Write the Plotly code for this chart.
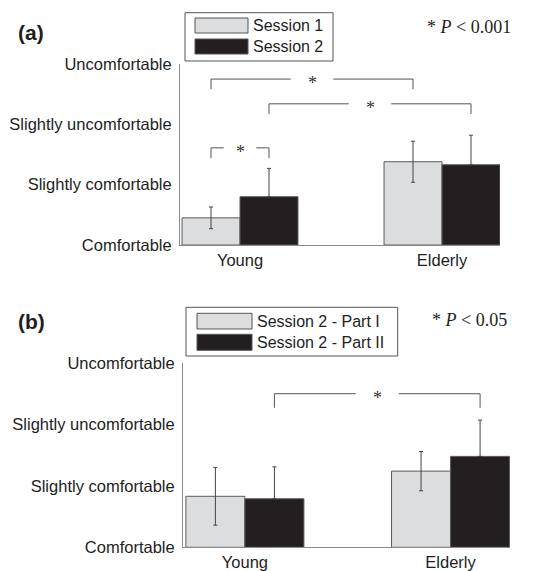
import plotly.graph_objects as go

# ---------------- data ----------------
groups = ["Young", "Elderly"]
levels = ["Comfortable", "Slightly comfortable", "Slightly uncomfortable", "Uncomfortable"]
level_vals = [0, 1, 2, 3]

a_names = ["Session 1", "Session 2"]
a_s1 = [0.45, 1.38]
a_s1_err = [0.18, 0.34]
a_s2 = [0.80, 1.33]
a_s2_err = [0.47, 0.49]
a_ptext = "* <i>P</i> &lt; 0.001"

b_names = ["Session 2 - Part I", "Session 2 - Part II"]
b_p1 = [0.83, 1.24]
b_p1_err = [0.47, 0.32]
b_p2 = [0.79, 1.48]
b_p2_err = [0.52, 0.59]
b_ptext = "* <i>P</i> &lt; 0.05"

# significance brackets: (group_i, series_i, group_j, series_j, level)
a_brackets = [(0, 0, 1, 0, 2.75), (0, 1, 1, 1, 2.34), (0, 0, 0, 1, 1.61)]
b_brackets = [(0, 1, 1, 1, 2.50)]

# ---------------- style ----------------
LIGHT = "#dcdddf"
DARK = "#231f20"
EDGE = "#5a5a5a"
AXC = "#8a8a8a"
TXT = "#1e1e1e"
SANS = "Liberation Sans, Arial, sans-serif"
SERIF = "Liberation Serif, Times New Roman, serif"
BARGAP = 0.426
OFF = (1 - BARGAP) / 4

fig = go.Figure()


def add_panel(xa, ya, vals1, err1, vals2, err2, names):
    fig.add_trace(go.Bar(
        x=groups, y=vals1, name=names[0], xaxis=xa, yaxis=ya,
        marker=dict(color=LIGHT, line=dict(color=EDGE, width=1)),
        error_y=dict(type="data", array=err1, color="#444", thickness=1, width=2),
        showlegend=False, hoverinfo="skip"))
    fig.add_trace(go.Bar(
        x=groups, y=vals2, name=names[1], xaxis=xa, yaxis=ya,
        marker=dict(color=DARK, line=dict(color=EDGE, width=1)),
        error_y=dict(type="data", symmetric=False, array=err2,
                     arrayminus=[0] * len(err2), color="#444", thickness=1, width=2),
        showlegend=False, hoverinfo="skip"))


add_panel("x", "y", a_s1, a_s1_err, a_s2, a_s2_err, a_names)
add_panel("x2", "y2", b_p1, b_p1_err, b_p2, b_p2_err, b_names)

shapes = []
annotations = []


def add_brackets(brs, xref, yref, leg):
    for gi, si, gj, sj, lev in brs:
        x1 = gi + (OFF if si else -OFF)
        x2 = gj + (OFF if sj else -OFF)
        mid = (x1 + x2) / 2
        gap = min(0.105, 0.28 * abs(x2 - x1))
        line = dict(color="#555", width=1)
        shapes.append(dict(type="line", xref=xref, yref=yref, x0=x1, x1=x1,
                           y0=lev - leg, y1=lev, line=line))
        shapes.append(dict(type="line", xref=xref, yref=yref, x0=x2, x1=x2,
                           y0=lev - leg, y1=lev, line=line))
        shapes.append(dict(type="line", xref=xref, yref=yref, x0=x1, x1=mid - gap,
                           y0=lev, y1=lev, line=line))
        shapes.append(dict(type="line", xref=xref, yref=yref, x0=mid + gap, x1=x2,
                           y0=lev, y1=lev, line=line))
        annotations.append(dict(x=mid, y=lev, xref=xref, yref=yref, text="*",
                                showarrow=False, yanchor="middle", yshift=-4,
                                font=dict(family=SERIF, size=18, color="#333")))


add_brackets(a_brackets, "x", "y", 0.17)
add_brackets(b_brackets, "x2", "y2", 0.23)

W, H = 555, 571


def px(x):
    return x / W


def py(y):
    return 1 - y / H


def add_legend(names, box, sw_x, sw_rows, text_x):
    bx0, by0, bx1, by1 = box
    shapes.append(dict(type="rect", xref="paper", yref="paper",
                       x0=px(bx0), x1=px(bx1), y0=py(by0), y1=py(by1),
                       line=dict(color="#555", width=1), fillcolor="white"))
    for name, (r0, r1), col in zip(names, sw_rows, [LIGHT, DARK]):
        shapes.append(dict(type="rect", xref="paper", yref="paper",
                           x0=px(sw_x[0]), x1=px(sw_x[1]), y0=py(r0), y1=py(r1),
                           line=dict(color="#555", width=1), fillcolor=col))
        annotations.append(dict(x=px(text_x), y=py((r0 + r1) / 2), xref="paper",
                                yref="paper", text=name, showarrow=False,
                                xanchor="left", yanchor="middle",
                                font=dict(family=SANS, size=16, color=TXT)))


add_legend(a_names, (185, 12.7, 333, 61), (195, 248), [(18, 33), (39, 54)], 251)
add_legend(b_names, (186, 307.3, 397.7, 356), (197, 252), [(313.3, 329), (334.3, 350.3)], 255)

for lab, yc in [("(a)", 32), ("(b)", 321.7)]:
    annotations.append(dict(x=px(16), y=py(yc), xref="paper", yref="paper",
                            text="<b>" + lab + "</b>", showarrow=False,
                            xanchor="left", yanchor="middle",
                            font=dict(family=SANS, size=21, color=TXT)))
for t, xr, yc in [(a_ptext, 513, 27), (b_ptext, 509, 320)]:
    annotations.append(dict(x=px(xr), y=py(yc), xref="paper", yref="paper",
                            text=t, showarrow=False, xanchor="right", yanchor="middle",
                            font=dict(family=SERIF, size=18, color=TXT)))

xax = dict(type="category", showgrid=False, zeroline=False, showline=True,
           linecolor=AXC, linewidth=1, ticks="", fixedrange=True, automargin=False,
           tickfont=dict(family=SANS, size=16.5, color=TXT))
yax = dict(range=[0, 3], tickvals=level_vals, ticktext=levels, showgrid=False,
           zeroline=False, showline=True, linecolor=AXC, linewidth=1, ticks="",
           automargin=False,
           ticklabelstandoff=4, tickfont=dict(family=SANS, size=16.5, color=TXT))

fig.update_layout(
    width=W, height=H, margin=dict(l=0, r=0, t=0, b=0, autoexpand=False),
    paper_bgcolor="white", plot_bgcolor="white",
    barmode="group", bargap=BARGAP, bargroupgap=0,
    xaxis=dict(xax, domain=[px(180), px(500)], range=[-0.297, 1.287], anchor="y"),
    yaxis=dict(yax, domain=[py(245), py(64)], anchor="x"),
    xaxis2=dict(xax, domain=[px(183), px(510)], range=[-0.301, 1.289], anchor="y2"),
    yaxis2=dict(yax, domain=[py(547.3), py(363)], anchor="x2"),
    shapes=shapes, annotations=annotations, showlegend=False,
)

fig.write_html("out.html")
